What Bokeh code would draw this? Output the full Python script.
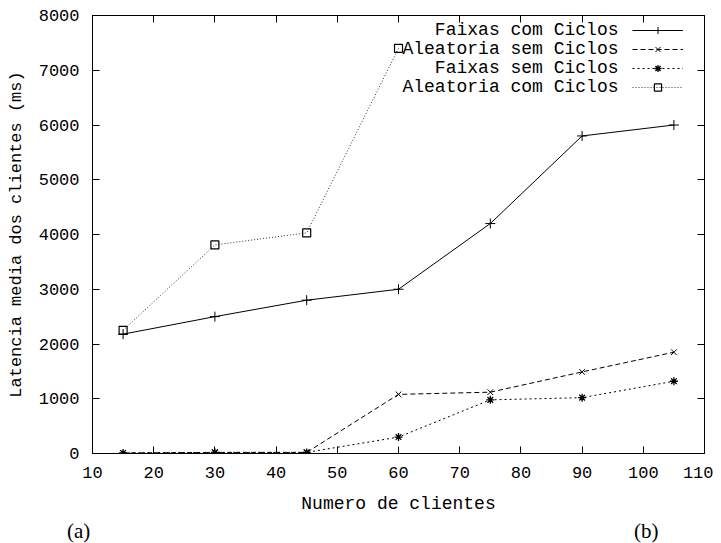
from bokeh.plotting import figure
from bokeh.layouts import column
from bokeh.models import LinearAxis, Label, Legend, LegendItem, FixedTicker, Range1d, Div
from bokeh.embed import file_html
from bokeh.resources import INLINE

# ---- data ----
clients = [15, 30, 45, 60, 75, 90, 105]
faixas_com = [2180, 2500, 2800, 3000, 4200, 5800, 6000]
aleat_sem = [10, 20, 20, 1080, 1120, 1490, 1850]
faixas_sem = [10, 20, 20, 300, 980, 1020, 1320]
clients_aleat_com = [15, 30, 45, 60]
aleat_com = [2250, 3810, 4030, 7400]
series_names = ["Faixas com Ciclos", "Aleatoria sem Ciclos", "Faixas sem Ciclos", "Aleatoria com Ciclos"]
x_ticks = [10, 20, 30, 40, 50, 60, 70, 80, 90, 100, 110]
y_ticks = [0, 1000, 2000, 3000, 4000, 5000, 6000, 7000, 8000]
x_label = "Numero de clientes"
y_label = "Latencia media dos clientes (ms)"
captions = ["(a)", "(b)"]

MONO = "Liberation Mono"

p = figure(frame_width=612, frame_height=438,
           x_range=Range1d(10, 110), y_range=Range1d(0, 8000),
           output_backend="svg", toolbar_location=None,
           min_border_left=92, min_border_right=9, min_border_top=15, min_border_bottom=70)
p.grid.visible = False
p.outline_line_color = "black"
p.outline_line_width = 1
p.background_fill_color = "white"
p.border_fill_color = "white"

def style_axis(ax, ticks, labels=True):
    ax.ticker = FixedTicker(ticks=ticks)
    ax.major_tick_in = 7
    ax.major_tick_out = 0
    ax.minor_tick_line_color = None
    ax.axis_line_color = "black"
    ax.major_tick_line_color = "black"
    ax.major_label_text_font = MONO
    ax.major_label_text_font_size = "17px"
    ax.major_label_text_color = "black"
    if labels:
        ax.axis_label_text_font = MONO
        ax.axis_label_text_font_style = "normal"
        ax.axis_label_text_color = "black"
    else:
        ax.major_label_overrides = {t: "" for t in ticks}
        ax.major_label_standoff = 0

style_axis(p.xaxis[0], x_ticks)
style_axis(p.yaxis[0], y_ticks)
p.xaxis[0].axis_label = x_label
p.yaxis[0].axis_label = y_label
p.xaxis[0].axis_label_text_font_size = "18px"
p.yaxis[0].axis_label_text_font_size = "17px"
p.xaxis[0].major_label_standoff = 13
p.yaxis[0].major_label_standoff = 13
p.xaxis[0].axis_label_standoff = 13
p.yaxis[0].axis_label_standoff = 10

top = LinearAxis()
right = LinearAxis()
style_axis(top, x_ticks, labels=False)
style_axis(right, y_ticks, labels=False)
p.add_layout(top, "above")
p.add_layout(right, "right")

# ---- series ----
l1 = p.line(clients, faixas_com, line_color="black", line_width=1)
m1 = p.scatter(clients, faixas_com, marker="cross", size=10, line_color="black")
l2 = p.line(clients, aleat_sem, line_color="black", line_width=1, line_dash="5 3")
m2 = p.scatter(clients, aleat_sem, marker="x", size=8, line_color="black")
l3 = p.line(clients, faixas_sem, line_color="black", line_width=1, line_dash="2 3")
m3 = p.scatter(clients, faixas_sem, marker="asterisk", size=8, line_color="black", line_width=1.3)
l4 = p.line(clients_aleat_com, aleat_com, line_color="#333333", line_width=1, line_dash="1 2")
m4 = p.scatter(clients_aleat_com, aleat_com, marker="square", size=8, line_color="black",
               fill_color=None, line_width=1.2)

legend = Legend(items=[
    LegendItem(label=" ", renderers=[l1, m1]),
    LegendItem(label=" ", renderers=[l2, m2]),
    LegendItem(label=" ", renderers=[l3, m3]),
    LegendItem(label=" ", renderers=[l4, m4]),
], location=(540, 357), glyph_width=51, glyph_height=18, spacing=1, padding=0, margin=0,
   label_text_font_size="1px", label_standoff=0, label_width=0, label_height=0,
   border_line_color=None, background_fill_alpha=0)
p.add_layout(legend)

row_y = [423.5, 404.5, 385.5, 366.5]
for name, yy in zip(series_names, row_y):
    p.add_layout(Label(x=526, y=yy, x_units="screen", y_units="screen", text=name,
                       text_align="right", text_baseline="middle", text_font=MONO,
                       text_font_size="18px", text_color="black"))

# panel captions below the plot
cap_html = (
    '<div style="position:relative;width:713px;height:20px;top:-2px;'
    'font-family:\'Liberation Serif\';font-size:21px;line-height:21px;color:black;">'
    f'<span style="position:absolute;left:67px;top:0px;">{captions[0]}</span>'
    f'<span style="position:absolute;left:634px;top:0px;">{captions[1]}</span>'
    '</div>'
)
cap = Div(text=cap_html, width=713, height=20, margin=0)

layout = column(p, cap, spacing=0)
open("out.html", "w").write(file_html(layout, INLINE))
